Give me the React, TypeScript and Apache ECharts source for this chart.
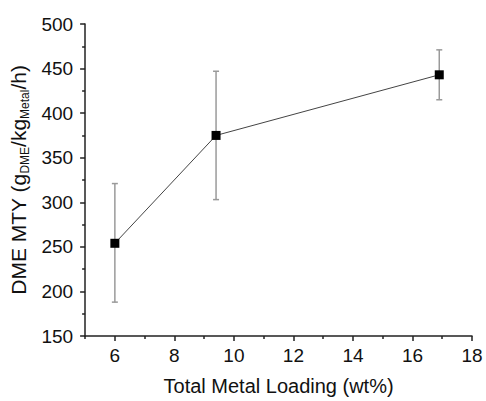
import React, { useEffect, useRef } from 'react';
import * as echarts from 'echarts';

// Total metal loading (wt%) and DME mass-time-yield with error range
const loading = [6, 9.4, 16.9];
const mty = [254, 375, 443];
const mtyLow = [188, 303, 415];
const mtyHigh = [321, 447, 471];

// Axis ticks
const xMajorTicks = [6, 8, 10, 12, 14, 16, 18];
const xMinorTicks = [5, 7, 9, 11, 13, 15, 17];

const FONT = "'Liberation Sans', Arial, Helvetica, sans-serif";
const AXIS_COLOR = '#222';
const GRID = { left: 85, right: 14, top: 24, bottom: 65 };

export default function App() {
  const ref = useRef<HTMLDivElement>(null);

  useEffect(() => {
    const chart = echarts.init(ref.current!, null, { renderer: 'svg' });

    const errorBars = loading.map((x, i) => [x, mtyLow[i], mtyHigh[i]]);
    const points = loading.map((x, i) => [x, mty[i]]);

    chart.setOption({
      animation: false,
      grid: [
        { ...GRID },
        { ...GRID },
      ],
      xAxis: [
        {
          type: 'value',
          gridIndex: 0,
          min: 5,
          max: 18,
          name: 'Total Metal Loading (wt%)',
          nameLocation: 'middle',
          nameGap: 40,
          nameTextStyle: { fontSize: 20, fontFamily: FONT, color: '#111' },
          axisLine: { show: true, lineStyle: { color: AXIS_COLOR, width: 1.5 } },
          axisTick: {
            show: true,
            length: 5,
            customValues: xMajorTicks,
            lineStyle: { color: AXIS_COLOR, width: 1.5 },
          },
          axisLabel: {
            customValues: xMajorTicks,
            margin: 10,
            fontSize: 19,
            fontFamily: FONT,
            color: '#111',
          },
          splitLine: { show: false },
        },
        {
          // minor ticks at the odd values
          type: 'value',
          gridIndex: 1,
          min: 5,
          max: 18,
          axisLine: { show: false },
          axisTick: {
            show: true,
            length: 3,
            customValues: xMinorTicks,
            lineStyle: { color: AXIS_COLOR, width: 1.5 },
          },
          axisLabel: { show: false },
          splitLine: { show: false },
        },
      ],
      yAxis: [
        {
          type: 'value',
          gridIndex: 0,
          min: 150,
          max: 500,
          interval: 50,
          name: '{a|DME MTY (g}{s|DME}{a|/kg}{s|Metal}{a|/h)}',
          nameLocation: 'middle',
          nameGap: 46,
          nameRotate: 90,
          nameTextStyle: {
            rich: {
              a: { fontSize: 21, fontFamily: FONT, color: '#111', lineHeight: 24 },
              s: {
                fontSize: 12,
                fontFamily: FONT,
                color: '#111',
                lineHeight: 12,
                verticalAlign: 'bottom',
              },
            },
          },
          axisLine: { show: true, lineStyle: { color: AXIS_COLOR, width: 1.5 } },
          axisTick: { show: true, length: 5, lineStyle: { color: AXIS_COLOR, width: 1.5 } },
          minorTick: { show: true, splitNumber: 2, length: 3, lineStyle: { color: AXIS_COLOR, width: 1.5 } },
          axisLabel: { margin: 12, fontSize: 19, fontFamily: FONT, color: '#111' },
          splitLine: { show: false },
          minorSplitLine: { show: false },
        },
        {
          type: 'value',
          gridIndex: 1,
          min: 150,
          max: 500,
          show: false,
        },
      ],
      series: [
        {
          type: 'custom',
          xAxisIndex: 0,
          yAxisIndex: 0,
          data: errorBars,
          encode: { x: 0, y: [1, 2] },
          z: 1,
          silent: true,
          renderItem: (_params: any, api: any) => {
            const x = api.value(0);
            const lo = api.coord([x, api.value(1)]);
            const hi = api.coord([x, api.value(2)]);
            const cap = 3;
            const style = { stroke: '#9a9a9a', lineWidth: 1.5 };
            return {
              type: 'group',
              children: [
                { type: 'line', shape: { x1: lo[0], y1: lo[1], x2: hi[0], y2: hi[1] }, style },
                { type: 'line', shape: { x1: hi[0] - cap, y1: hi[1], x2: hi[0] + cap, y2: hi[1] }, style },
                { type: 'line', shape: { x1: lo[0] - cap, y1: lo[1], x2: lo[0] + cap, y2: lo[1] }, style },
              ],
            };
          },
        },
        {
          type: 'line',
          xAxisIndex: 0,
          yAxisIndex: 0,
          data: points,
          symbol: 'rect',
          symbolSize: 9,
          itemStyle: { color: '#000' },
          lineStyle: { color: '#444', width: 1 },
          z: 3,
        },
      ],
    });

    return () => chart.dispose();
  }, []);

  return (
    <div
      ref={ref}
      style={{ position: 'fixed', left: 0, top: 0, width: 486, height: 401, background: '#fff' }}
    />
  );
}
